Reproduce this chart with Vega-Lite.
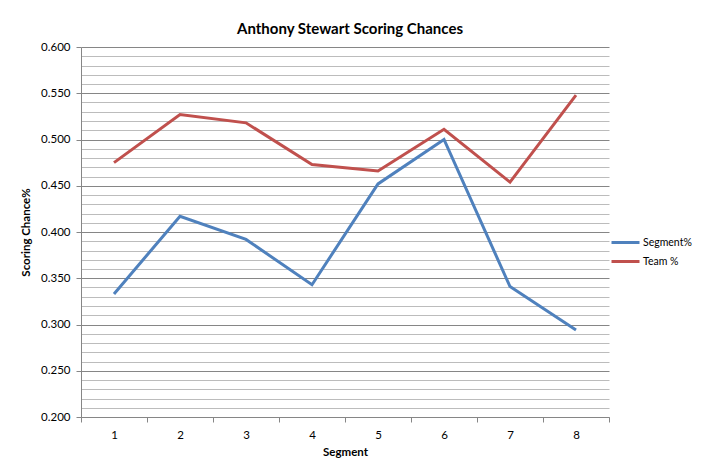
{
  "$schema": "https://vega.github.io/schema/vega-lite/v6.json",
  "width": 528,
  "height": 370,
  "autosize": {"type": "none"},
  "padding": {"left": 81, "top": 47, "right": 93, "bottom": 55},
  "background": "white",
  "config": {"view": {"stroke": null}, "font": "Lato"},
  "title": {
    "text": "Anthony Stewart Scoring Chances",
    "font": "Lato",
    "fontSize": 15,
    "fontWeight": "bold",
    "color": "black",
    "anchor": "middle",
    "frame": "group",
    "dx": 5,
    "offset": 4
  },
  "data": {
    "values": [
      {"Segment": 1, "series": "Segment%", "value": 0.333},
      {"Segment": 2, "series": "Segment%", "value": 0.417},
      {"Segment": 3, "series": "Segment%", "value": 0.392},
      {"Segment": 4, "series": "Segment%", "value": 0.343},
      {"Segment": 5, "series": "Segment%", "value": 0.452},
      {"Segment": 6, "series": "Segment%", "value": 0.500},
      {"Segment": 7, "series": "Segment%", "value": 0.341},
      {"Segment": 8, "series": "Segment%", "value": 0.294},
      {"Segment": 1, "series": "Team %", "value": 0.475},
      {"Segment": 2, "series": "Team %", "value": 0.527},
      {"Segment": 3, "series": "Team %", "value": 0.518},
      {"Segment": 4, "series": "Team %", "value": 0.473},
      {"Segment": 5, "series": "Team %", "value": 0.466},
      {"Segment": 6, "series": "Team %", "value": 0.511},
      {"Segment": 7, "series": "Team %", "value": 0.454},
      {"Segment": 8, "series": "Team %", "value": 0.548}
    ]
  },
  "resolve": {"axis": {"y": "independent"}, "scale": {"y": "shared"}},
  "layer": [
    {
      "mark": {"type": "line", "opacity": 0},
      "encoding": {
        "x": {
          "field": "Segment",
          "type": "ordinal",
          "bandPosition": 0.5,
          "scale": {"type": "band", "paddingInner": 0, "paddingOuter": 0},
          "axis": {
            "labelAngle": 0,
            "tickBand": "extent",
            "grid": false,
            "domainColor": "#868686",
            "tickColor": "#868686",
            "tickSize": 5,
            "labelPadding": 7,
            "labelFont": "Lato",
            "labelFontSize": 11.5,
            "labelColor": "black",
            "title": "Segment",
            "titleFont": "Lato",
            "titleFontSize": 11.5,
            "titleFontWeight": "bold",
            "titleColor": "black",
            "titlePadding": 6
          }
        },
        "y": {
          "field": "value",
          "type": "quantitative",
          "scale": {"domain": [0.2, 0.6], "nice": false, "zero": false},
          "axis": {
            "orient": "left",
            "values": [0.21, 0.22, 0.23, 0.24, 0.26, 0.27, 0.28, 0.29, 0.31, 0.32, 0.33, 0.34, 0.36, 0.37, 0.38, 0.39, 0.41, 0.42, 0.43, 0.44, 0.46, 0.47, 0.48, 0.49, 0.51, 0.52, 0.53, 0.54, 0.56, 0.57, 0.58, 0.59],
            "grid": true,
            "gridColor": "#bcbcbc",
            "gridWidth": 1,
            "labels": false,
            "ticks": false,
            "domain": false,
            "title": null
          }
        },
        "detail": {"field": "series"}
      }
    },
    {
      "mark": {"type": "line", "strokeWidth": 3},
      "encoding": {
        "x": {
          "field": "Segment",
          "type": "ordinal",
          "bandPosition": 0.5,
          "scale": {"type": "band", "paddingInner": 0, "paddingOuter": 0},
          "axis": {
            "labelAngle": 0,
            "tickBand": "extent",
            "grid": false,
            "domainColor": "#868686",
            "tickColor": "#868686",
            "tickSize": 5,
            "labelPadding": 7,
            "labelFont": "Lato",
            "labelFontSize": 11.5,
            "labelColor": "black",
            "title": "Segment",
            "titleFont": "Lato",
            "titleFontSize": 11.5,
            "titleFontWeight": "bold",
            "titleColor": "black",
            "titlePadding": 6
          }
        },
        "y": {
          "field": "value",
          "type": "quantitative",
          "scale": {"domain": [0.2, 0.6], "nice": false, "zero": false},
          "axis": {
            "orient": "left",
            "values": [0.2, 0.25, 0.3, 0.35, 0.4, 0.45, 0.5, 0.55, 0.6],
            "format": ".3f",
            "grid": true,
            "gridColor": "#868686",
            "gridWidth": 1,
            "domainColor": "#868686",
            "tickColor": "#868686",
            "tickSize": 5,
            "labelPadding": 6,
            "labelFont": "Lato",
            "labelFontSize": 11.5,
            "labelColor": "black",
            "title": "Scoring Chance%",
            "titleFont": "Lato",
            "titleFontSize": 11.5,
            "titleFontWeight": "bold",
            "titleColor": "black",
            "titlePadding": 9
          }
        },
        "color": {
          "field": "series",
          "type": "nominal",
          "scale": {"domain": ["Segment%", "Team %"], "range": ["#4F81BD", "#C0504D"]},
          "legend": {
            "orient": "none",
            "legendX": 533,
            "legendY": 184,
            "title": null,
            "symbolType": "M-1.4,0H1.4",
            "symbolSize": 400,
            "symbolStrokeWidth": 3,
            "labelFont": "Lato",
            "labelFontSize": 10.5,
            "labelColor": "black",
            "labelOffset": 6,
            "rowPadding": 1,
            "padding": 0
          }
        }
      }
    }
  ]
}
